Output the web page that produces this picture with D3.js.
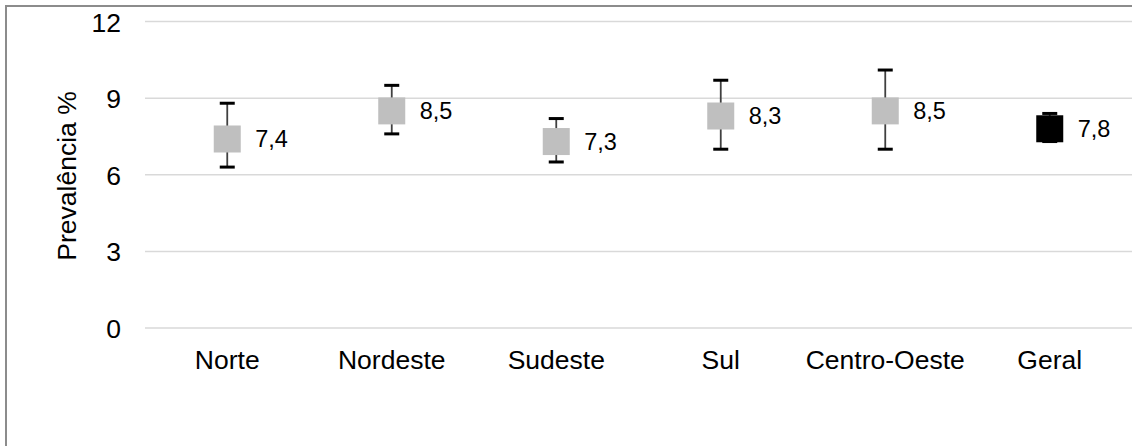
<!DOCTYPE html>
<html>
<head>
<meta charset="utf-8">
<script src="https://cdn.jsdelivr.net/npm/d3@7"></script>
<style>
  html, body { margin: 0; padding: 0; background: #fff; }
  svg { display: block; }
  text { font-family: "Liberation Sans", Arial, sans-serif; fill: #000; }
</style>
</head>
<body>
<svg id="chart" width="1132" height="446"></svg>
<script>
// Prevalência por região (%), com intervalo de confiança de 95%
const regions   = ["Norte", "Nordeste", "Sudeste", "Sul", "Centro-Oeste", "Geral"];
const prevalence = [7.4, 8.5, 7.3, 8.3, 8.5, 7.8];
const ciLower    = [6.3, 7.6, 6.5, 7.0, 7.0, 7.3];
const ciUpper    = [8.8, 9.5, 8.2, 9.7, 10.1, 8.4];
const yTicks     = [0, 3, 6, 9, 12];

const rows = regions.map((r, i) => ({
  region: r, value: prevalence[i], lo: ciLower[i], hi: ciUpper[i],
  overall: r === "Geral"
}));

const svg = d3.select("#chart");
const W = 1132, H = 446;
const axisFont = 26.5, valueFont = 23.5;

// frame (top and left edges visible)
svg.append("path")
  .attr("d", `M6,${H} L6,6 L${W},6`)
  .attr("fill", "none")
  .attr("stroke", "#8c8c8c")
  .attr("stroke-width", 2);

const x = d3.scaleBand().domain(regions).range([145, 1132]).padding(0);
const y = d3.scaleLinear().domain([0, 12]).range([328, 21.5]);

// gridlines
svg.append("g")
  .selectAll("line")
  .data(yTicks)
  .join("line")
  .attr("x1", 145).attr("x2", 1132)
  .attr("y1", d => y(d)).attr("y2", d => y(d))
  .attr("stroke", "#d9d9d9")
  .attr("stroke-width", 1.5);

// y axis labels
const yAxis = d3.axisLeft(y).tickValues(yTicks).tickSize(0).tickPadding(0);
const gy = svg.append("g").attr("transform", "translate(121,0)").call(yAxis);
gy.select(".domain").remove();
gy.selectAll("text")
  .attr("font-family", "Liberation Sans, Arial, sans-serif")
  .attr("font-size", axisFont)
  .attr("fill", "#000")
  .attr("dy", "0.36em");

// x axis labels
const xAxis = d3.axisBottom(x).tickSize(0).tickPadding(0);
const gx = svg.append("g").attr("transform", "translate(0,369)").call(xAxis);
gx.select(".domain").remove();
gx.selectAll("text")
  .attr("font-family", "Liberation Sans, Arial, sans-serif")
  .attr("font-size", axisFont)
  .attr("fill", "#000")
  .attr("y", 0)
  .attr("dy", 0);

// y axis title
svg.append("text")
  .attr("transform", "translate(75.5,176) rotate(-90)")
  .attr("text-anchor", "middle")
  .attr("font-size", axisFont)
  .text("Prevalência %");

const cx = d => x(d.region) + x.bandwidth() / 2;
const capW = 15, sq = 27;

const marks = svg.append("g");

// error bar stems
marks.selectAll("line.stem")
  .data(rows)
  .join("line")
  .attr("class", "stem")
  .attr("x1", cx).attr("x2", cx)
  .attr("y1", d => y(d.hi)).attr("y2", d => y(d.lo))
  .attr("stroke", "#404040")
  .attr("stroke-width", 1.8);

// error bar caps
["lo", "hi"].forEach(k => {
  marks.selectAll("line.cap-" + k)
    .data(rows)
    .join("line")
    .attr("class", "cap-" + k)
    .attr("x1", d => cx(d) - capW / 2).attr("x2", d => cx(d) + capW / 2)
    .attr("y1", d => y(d[k])).attr("y2", d => y(d[k]))
    .attr("stroke", "#000")
    .attr("stroke-width", 3);
});

// point estimates
marks.selectAll("rect.pt")
  .data(rows)
  .join("rect")
  .attr("class", "pt")
  .attr("x", d => cx(d) - sq / 2)
  .attr("y", d => y(d.value) - sq / 2)
  .attr("width", sq).attr("height", sq)
  .attr("fill", d => d.overall ? "#000" : "#bfbfbf");

// value labels
marks.selectAll("text.val")
  .data(rows)
  .join("text")
  .attr("class", "val")
  .attr("x", d => cx(d) + 28)
  .attr("y", d => y(d.value))
  .attr("dy", "0.36em")
  .attr("font-size", valueFont)
  .text(d => d3.format(".1f")(d.value).replace(".", ","));
</script>
</body>
</html>
